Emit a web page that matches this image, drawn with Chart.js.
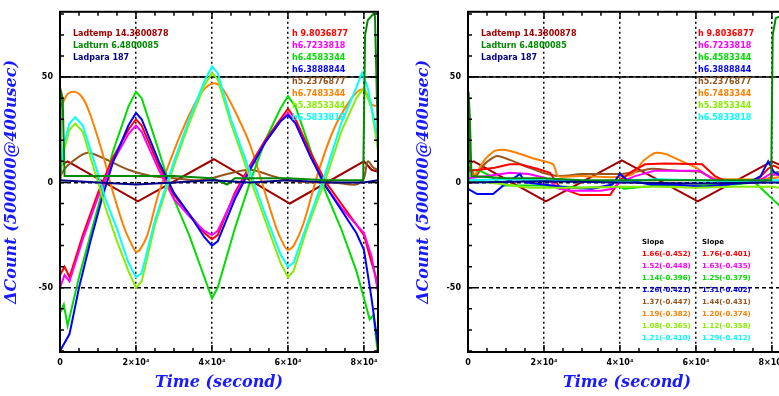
<!DOCTYPE html>
<html>
<head>
<meta charset="utf-8">
<script src="https://cdn.jsdelivr.net/npm/chart.js@4.4.1/dist/chart.umd.min.js"></script>
<style>
html, body { margin: 0; padding: 0; background: #fff; overflow: hidden; width: 779px; height: 396px; }
#wrapL { position: absolute; left: 0; top: 0; width: 390px; height: 396px; }
#wrapR { position: absolute; left: 390px; top: 0; width: 408px; height: 396px; }
</style>
</head>
<body>
<div id="wrapL"><canvas id="chartL"></canvas></div>
<div id="wrapR"><canvas id="chartR"></canvas></div>
<script>
// ---- axis ticks ----
const xMinorTicks = [0, 5000, 10000, 15000, 20000, 25000, 30000, 35000, 40000, 45000, 50000, 55000, 60000, 65000, 70000, 75000, 80000];
const xMajorTicks = [0, 20000, 40000, 60000, 80000];
const xTickLabels = ['0', '2×10⁴', '4×10⁴', '6×10⁴', '8×10⁴'];
const yMinorTicks = [-80, -70, -60, -50, -40, -30, -20, -10, 0, 10, 20, 30, 40, 50, 60, 70, 80];
const yMajorTicks = [-50, 0, 50];
const yTickLabels = ['-50', '0', '50'];
const solidLineAt = 50;

// ---- legend texts ----
const ladderLabels = ['Ladtemp 14.3800878', 'Ladturn 6.4800085', 'Ladpara 187'];
const chipLabels = ['h 9.8036877', 'h6.7233818', 'h6.4583344', 'h6.3888844', 'h5.2376877', 'h6.7483344', 'h5.3853344', 'h6.5833818'];
const slopeHead = ['Slope', 'Slope'];
const slopeColA = ['1.66(-0.452)', '1.52(-0.448)', '1.14(-0.396)', '1.26(-0.421)', '1.37(-0.447)', '1.19(-0.382)', '1.08(-0.365)', '1.21(-0.410)'];
const slopeColB = ['1.76(-0.401)', '1.63(-0.435)', '1.25(-0.379)', '1.31(-0.402)', '1.44(-0.431)', '1.20(-0.374)', '1.12(-0.358)', '1.29(-0.412)'];

// ---- left panel series [time, dCount] ----
const lNavy = [[0,1],[10000,0],[20000,-1],[30000,0],[40000,1],[50000,0],[60000,1],[70000,0],[80000,0],[83700,1]];
const lDarkGreen = [[0,2],[150,44],[700,40],[1200,3],[10000,3],[20000,3],[30000,3],[40000,2],[44000,-1],[46000,2],[60000,2],[70000,1],[79800,1],[80300,70],[81000,77],[82500,80],[82900,79],[83700,18]];
const lCyan = [[0,4],[1000,18],[2500,28],[4000,31],[6000,27],[9000,10],[12000,-8],[15000,-22],[18000,-38],[20000,-45],[21500,-43],[25000,-18],[30000,10],[34000,30],[38000,48],[40000,55],[41500,52],[45000,30],[50000,5],[54000,-15],[58000,-34],[60000,-40],[61500,-38],[65000,-20],[70000,5],[74000,28],[78000,45],[79500,52],[81000,45],[83700,20]];
const lLime = [[0,2],[1000,15],[2500,25],[4000,28],[6000,24],[9000,6],[12000,-12],[15000,-28],[18000,-42],[20000,-50],[21500,-47],[25000,-20],[30000,8],[34000,28],[38000,46],[40000,52],[41500,49],[45000,28],[50000,2],[54000,-18],[58000,-38],[60000,-45],[61500,-42],[65000,-22],[70000,2],[74000,24],[78000,40],[80000,45],[82000,35],[83700,15]];
const lBlue = [[0,-80],[2500,-72],[5000,-50],[8000,-28],[11000,-8],[14000,10],[18000,27],[20000,33],[21500,30],[26000,10],[30000,-5],[34000,-15],[38000,-26],[40000,-30],[41500,-28],[46000,-8],[50000,6],[54000,19],[58000,29],[60000,32],[62000,28],[66000,12],[70000,-2],[74000,-13],[78000,-24],[80000,-32],[82000,-55],[83700,-78]];
const lMagenta = [[0,-50],[1200,-44],[2500,-47],[6000,-27],[10000,-7],[14000,10],[18000,23],[20000,27],[21500,24],[26000,6],[30000,-8],[34000,-16],[38000,-23],[40000,-25],[41500,-23],[46000,-6],[50000,7],[54000,19],[58000,29],[60000,33],[62000,28],[66000,12],[70000,-2],[74000,-12],[78000,-20],[80000,-24],[82000,-35],[83700,-52]];
const lRed = [[0,-44],[1200,-40],[2500,-45],[6000,-25],[10000,-5],[14000,12],[18000,25],[20000,30],[21500,27],[26000,8],[30000,-6],[34000,-15],[38000,-24],[40000,-27],[41500,-25],[46000,-5],[50000,8],[54000,20],[58000,30],[60000,35],[62000,30],[66000,14],[70000,0],[74000,-10],[78000,-20],[80000,-25],[82000,-38],[83700,-48]];
const lGreen = [[0,-62],[1000,-58],[2000,-68],[5000,-45],[8000,-25],[11000,-5],[14000,15],[18000,36],[20000,43],[21500,40],[26000,15],[30000,-8],[34000,-25],[38000,-45],[40000,-55],[41500,-50],[46000,-22],[50000,0],[54000,20],[58000,35],[60000,41],[62000,36],[66000,15],[70000,-5],[74000,-22],[78000,-42],[80000,-55],[81500,-65],[82500,-63],[83700,-82]];
const lOrange = [[0,36],[800,38],[2000,42],[4000,43],[6000,40],[8000,32],[11000,15],[14000,-5],[17000,-22],[19000,-30],[20000,-33],[21000,-32],[23000,-25],[26000,-5],[30000,15],[34000,32],[37000,42],[39000,46],[41000,47],[43000,44],[46000,34],[50000,18],[54000,-5],[57000,-22],[59000,-30],[60000,-32],[61500,-30],[64000,-20],[68000,5],[72000,25],[76000,38],[79000,44],[80500,43],[82000,37],[83700,36]];
const lBrown = [[0,3],[2000,8],[7000,14],[12000,11],[18000,6],[24000,3],[30000,2],[36000,1],[40000,2],[44000,4],[50000,6],[56000,3],[60000,1],[66000,0],[72000,0],[78000,-1],[80000,2],[81000,10],[82500,7],[83700,6]];
const lDarkRed = [[0,8],[2000,10],[20500,-9],[40500,11],[60500,-10],[80000,10],[82000,6],[83700,5]];

// ---- right panel series ----
const rNavy = [[0,0],[20000,0.5],[40000,0],[60000,-0.5],[80000,0],[83700,0]];
const rDarkGreen = [[0,1],[150,43],[500,30],[900,3],[10000,2],[20000,2],[30000,1],[40000,1],[50000,1],[60000,1],[70000,1],[79800,1],[80200,70],[81000,78],[83700,80]];
const rCyan = [[0,1],[10000,1.5],[20000,1],[30000,0.5],[40000,0.5],[50000,1.5],[60000,1],[70000,0.5],[80000,1],[83700,1]];
const rLime = [[0,1],[10000,-1],[16000,-2.5],[30000,-2.5],[40000,-2],[50000,-2],[60000,-2.5],[70000,-2],[80000,-2],[83700,-3]];
const rBlue = [[0,-3],[2400,-5.5],[6600,-5.5],[9200,-1.6],[13700,4],[15000,0],[20000,-1],[26600,-2.5],[32600,-3],[38000,-1],[40000,4],[42000,1],[48000,-1],[54000,-1],[62000,-2],[68000,-1],[74000,0],[77000,3],[79000,10],[80500,5],[83700,2]];
const rMagenta = [[0,2],[5000,3],[11000,4.6],[16000,4],[20500,2],[24000,-3],[27000,-4],[35000,-4],[38000,-3],[40000,0],[44000,3],[49000,5.5],[55000,5.5],[61000,5.5],[64000,2],[67000,0],[76000,0],[79500,4],[83700,3]];
const rRed = [[0,5.5],[3000,6],[7000,7],[11000,8.6],[13700,8.6],[18200,6.5],[21600,4.6],[24200,-2.5],[29500,-6],[37400,-6],[40000,1],[43000,5],[46600,8.6],[51800,9],[61600,8.6],[65000,3],[68000,0.5],[75500,0],[79000,6.5],[80500,8],[83700,5]];
const rGreen = [[0,6],[3200,5.5],[6000,3],[9200,-1.5],[20000,-1.5],[30000,-2.5],[40000,-2],[41000,-3],[50000,-1.5],[60000,-1.5],[70000,-1],[75500,0],[80800,-9],[83700,-14]];
const rOrange = [[0,18],[300,16],[1000,4],[2000,4],[4500,11],[7000,15],[9200,15.5],[13000,14],[17000,11.5],[22400,8.6],[23700,3],[30000,3],[38000,2.5],[43400,4],[46000,10],[49200,14],[52000,13.5],[56300,10],[60000,7],[64200,2],[70000,1.5],[76000,1.5],[80000,2],[83700,3]];
const rBrown = [[0,8],[800,6],[2000,3],[4500,9],[7600,12.5],[12000,10],[16000,7],[19700,4.6],[24200,3],[30000,4],[40000,4],[44000,5],[48400,6.5],[55000,5.5],[61000,5],[66300,0.5],[72000,0],[78000,0.5],[80000,3],[81500,5],[83700,4]];
const rDarkRed = [[0,9],[1500,10],[20500,-9],[40500,10.5],[60500,-9],[80000,10],[83700,7]];

// colours
const cNavy = '#000088', cDarkGreen = '#008a00', cDarkRed = '#a00000';
const chipColors = ['#ff0000', '#ff00ff', '#00dd00', '#0000ff', '#94561e', '#ff8000', '#88ee00', '#00ffff'];
const ladderColors = [cDarkRed, cDarkGreen, cNavy];

function line(pts, color, tension) {
    return {
        data: pts.map(p => ({x: p[0], y: p[1]})),
        borderColor: color,
        borderWidth: 2,
        pointRadius: 0,
        fill: false,
        tension: tension || 0
    };
}

// first dataset ends up on top
function leftSets() {
    return [
        line(lNavy, cNavy), line(lDarkGreen, cDarkGreen), line(lCyan, chipColors[7]),
        line(lLime, chipColors[6]), line(lBlue, chipColors[3]), line(lMagenta, chipColors[1]),
        line(lRed, chipColors[0]), line(lGreen, chipColors[2]), line(lOrange, chipColors[5], 0.3),
        line(lBrown, chipColors[4], 0.3), line(lDarkRed, cDarkRed)
    ];
}
function rightSets() {
    return [
        line(rNavy, cNavy), line(rDarkGreen, cDarkGreen), line(rCyan, chipColors[7]),
        line(rLime, chipColors[6]), line(rBlue, chipColors[3]), line(rMagenta, chipColors[1]),
        line(rRed, chipColors[0]), line(rGreen, chipColors[2]), line(rOrange, chipColors[5], 0.2),
        line(rBrown, chipColors[4], 0.2), line(rDarkRed, cDarkRed)
    ];
}

// frame, inner tick marks and the solid line at +50
const framePlugin = {
    id: 'frame',
    beforeDatasetsDraw(chart) {
        const {ctx, chartArea: a, scales: {y}} = chart;
        const py = y.getPixelForValue(solidLineAt);
        ctx.save();
        ctx.strokeStyle = '#000';
        ctx.lineWidth = 1.5;
        ctx.beginPath(); ctx.moveTo(a.left, py); ctx.lineTo(a.right, py); ctx.stroke();
        ctx.restore();
    },
    afterDatasetsDraw(chart) {
        const {ctx, chartArea: a, scales: {x, y}} = chart;
        ctx.save();
        ctx.strokeStyle = '#000';
        ctx.lineWidth = 1.5;
        ctx.beginPath();
        xMinorTicks.forEach(v => {
            const px = x.getPixelForValue(v);
            const len = xMajorTicks.includes(v) ? 7 : 4;
            ctx.moveTo(px, a.bottom); ctx.lineTo(px, a.bottom - len);
            ctx.moveTo(px, a.top); ctx.lineTo(px, a.top + len);
        });
        yMinorTicks.forEach(v => {
            const py = y.getPixelForValue(v);
            const len = yMajorTicks.includes(v) ? 7 : 4;
            ctx.moveTo(a.left, py); ctx.lineTo(a.left + len, py);
            ctx.moveTo(a.right, py); ctx.lineTo(a.right - len, py);
        });
        ctx.stroke();
        ctx.lineWidth = 2;
        ctx.strokeRect(a.left, a.top, a.right - a.left, a.bottom - a.top);
        ctx.restore();
    }
};

function textPlugin(blocks) {
    return {
        id: 'texts',
        afterDatasetsDraw(chart) {
            const {ctx, chartArea: a} = chart;
            ctx.save();
            ctx.textBaseline = 'middle';
            ctx.textAlign = 'left';
            blocks.forEach(b => {
                ctx.font = 'bold ' + (b.size || 8) + 'px "DejaVu Sans"';
                b.items.forEach((t, i) => {
                    ctx.fillStyle = b.colors[i];
                    ctx.fillText(t, a.left + b.x, a.top + b.y + i * b.dy);
                });
            });
            ctx.restore();
        }
    };
}

function makeOptions(yWidth, titlePad) {
    const tickFont = {family: 'DejaVu Sans', size: 8, weight: 'bold'};
    const titleFont = {family: 'DejaVu Serif', size: 16, style: 'italic', weight: 'bold'};
    return {
        responsive: true,
        maintainAspectRatio: false,
        animation: false,
        devicePixelRatio: 1,
        layout: {padding: {left: 0, top: 10, right: 12, bottom: 0}},
        plugins: {legend: {display: false}, tooltip: {enabled: false}},
        scales: {
            x: {
                type: 'linear', min: 0, max: 83700,
                afterBuildTicks: s => { s.ticks = xMinorTicks.map(v => ({value: v})); },
                afterFit: s => { s.height = 44; },
                ticks: {
                    autoSkip: false, maxRotation: 0, padding: 6, color: '#000', font: tickFont,
                    callback: v => { const i = xMajorTicks.indexOf(v); return i < 0 ? '' : xTickLabels[i]; }
                },
                grid: {
                    drawTicks: false, lineWidth: 1.5,
                    color: c => (c.tick && xMajorTicks.includes(c.tick.value)) ? '#000' : 'rgba(0,0,0,0)'
                },
                border: {display: false, dash: [2, 3]},
                title: {display: true, text: 'Time (second)', color: '#1a1aff', font: titleFont, padding: {top: 0, bottom: 4}}
            },
            y: {
                type: 'linear', min: -80.5, max: 81,
                afterBuildTicks: s => { s.ticks = yMinorTicks.map(v => ({value: v})); },
                afterFit: s => { s.width = yWidth; },
                ticks: {
                    autoSkip: false, padding: 7, color: '#000', font: tickFont,
                    callback: v => { const i = yMajorTicks.indexOf(v); return i < 0 ? '' : yTickLabels[i]; }
                },
                grid: {
                    drawTicks: false, lineWidth: 1.5,
                    color: c => (c.tick && yMajorTicks.includes(c.tick.value)) ? '#000' : 'rgba(0,0,0,0)'
                },
                border: {display: false, dash: [4, 3]},
                title: {display: true, text: 'ΔCount (500000@400usec)', color: '#1a1aff', font: titleFont, padding: {top: titlePad, bottom: 0}}
            }
        }
    };
}

new Chart(document.getElementById('chartL'), {
    type: 'line',
    data: {datasets: leftSets()},
    options: makeOptions(60, 2),
    plugins: [framePlugin, textPlugin([
        {x: 13, y: 22, dy: 12, items: ladderLabels, colors: ladderColors},
        {x: 232, y: 22, dy: 12, items: chipLabels, colors: chipColors}
    ])]
});

new Chart(document.getElementById('chartR'), {
    type: 'line',
    data: {datasets: rightSets()},
    options: makeOptions(78, 24),
    plugins: [framePlugin, textPlugin([
        {x: 13, y: 22, dy: 12, items: ladderLabels, colors: ladderColors},
        {x: 230, y: 22, dy: 12, items: chipLabels, colors: chipColors},
        {x: 174, y: 230, dy: 0, size: 7, items: [slopeHead[0]], colors: ['#000']},
        {x: 234, y: 230, dy: 0, size: 7, items: [slopeHead[1]], colors: ['#000']},
        {x: 174, y: 242, dy: 12.1, size: 7, items: slopeColA, colors: chipColors},
        {x: 234, y: 242, dy: 12.1, size: 7, items: slopeColB, colors: chipColors}
    ])]
});
</script>
</body>
</html>
